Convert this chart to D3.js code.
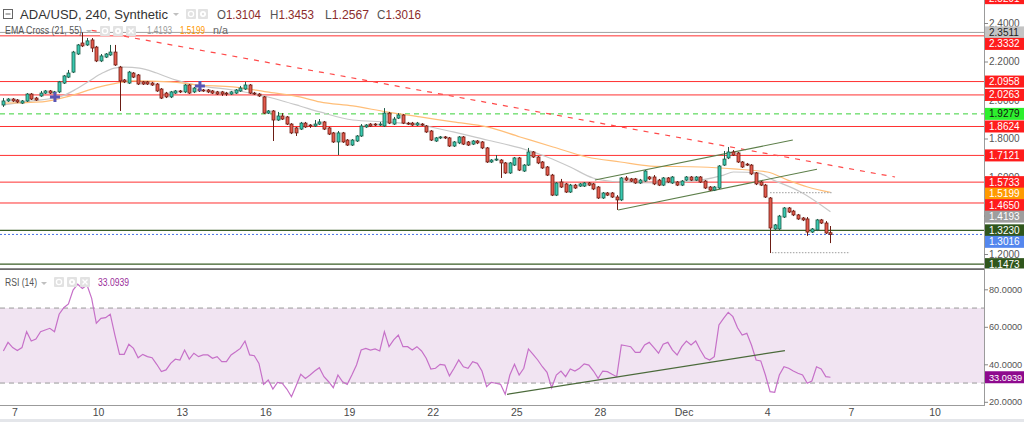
<!DOCTYPE html>
<html><head><meta charset="utf-8">
<script src="https://cdn.jsdelivr.net/npm/d3@7"></script>
<style>
html,body{margin:0;padding:0;background:#fff;overflow:hidden}
svg{display:block;font-family:"Liberation Sans",Arial,sans-serif}
</style></head><body>
<svg id="c" width="1024" height="422"></svg>
<script>
// ---------- data ----------
const barStartUTC = Date.UTC(2018,10,6,14);   // first 4h bar
const barMs = 4*3600*1000;
const open = [1.974,1.995,2.005,2.000,1.984,1.995,2.031,2.010,2.021,2.036,
2.047,2.036,2.042,2.088,2.119,2.145,2.239,2.296,2.286,2.312,
2.275,2.203,2.223,2.234,2.249,2.171,2.104,2.088,2.140,2.130,
2.094,2.094,2.088,2.083,2.057,2.036,2.016,2.036,2.047,2.042,
2.078,2.042,2.057,2.052,2.052,2.047,2.042,2.042,2.036,2.031,
2.036,2.047,2.057,2.078,2.036,2.031,2.016,1.932,1.943,1.896,
1.917,1.912,1.875,1.855,1.849,1.880,1.870,1.865,1.875,1.886,
1.855,1.829,1.782,1.829,1.792,1.766,1.787,1.813,1.860,1.875,
1.875,1.870,1.865,1.932,1.875,1.906,1.922,1.880,1.880,1.870,
1.875,1.865,1.839,1.787,1.803,1.808,1.803,1.761,1.777,1.808,
1.782,1.771,1.787,1.782,1.751,1.678,1.688,1.688,1.673,1.621,
1.662,1.699,1.631,1.662,1.730,1.704,1.678,1.652,1.610,1.506,
1.574,1.564,1.522,1.558,1.553,1.553,1.569,1.564,1.548,1.491,
1.517,1.517,1.496,1.481,1.595,1.590,1.590,1.569,1.579,1.600,
1.600,1.584,1.558,1.595,1.569,1.574,1.558,1.584,1.600,1.584,
1.600,1.579,1.548,1.532,1.543,1.662,1.699,1.730,1.725,1.678,
1.667,1.662,1.621,1.574,1.558,1.491,1.330,1.330,1.392,1.439,
1.423,1.403,1.387,1.382,1.314,1.325,1.377,1.361,1.3104];
const high = [2.010,2.010,2.010,2.005,2.000,2.036,2.036,2.016,2.047,2.052,
2.052,2.047,2.099,2.130,2.156,2.255,2.291,2.351,2.322,2.322,
2.281,2.239,2.244,2.286,2.286,2.177,2.109,2.151,2.145,2.135,
2.099,2.099,2.094,2.088,2.062,2.042,2.047,2.052,2.052,2.083,
2.083,2.068,2.062,2.057,2.057,2.052,2.047,2.047,2.042,2.047,
2.057,2.073,2.094,2.083,2.042,2.036,2.021,1.948,1.948,1.938,
1.932,1.917,1.880,1.860,1.886,1.886,1.875,1.896,1.901,1.891,
1.860,1.834,1.839,1.834,1.797,1.797,1.818,1.875,1.875,1.880,
1.880,1.886,1.958,1.938,1.912,1.932,1.927,1.886,1.886,1.886,
1.880,1.870,1.844,1.808,1.813,1.813,1.808,1.787,1.813,1.813,
1.787,1.792,1.792,1.787,1.756,1.693,1.714,1.693,1.678,1.678,
1.704,1.704,1.667,1.751,1.735,1.709,1.683,1.657,1.616,1.574,
1.590,1.569,1.564,1.564,1.569,1.574,1.574,1.569,1.553,1.522,
1.522,1.522,1.506,1.600,1.605,1.595,1.595,1.590,1.636,1.605,
1.610,1.590,1.600,1.600,1.605,1.579,1.584,1.605,1.605,1.605,
1.605,1.584,1.553,1.553,1.662,1.735,1.756,1.740,1.730,1.683,
1.673,1.667,1.626,1.579,1.564,1.496,1.356,1.403,1.444,1.444,
1.429,1.408,1.392,1.392,1.335,1.382,1.382,1.371,1.3453];
const low = [1.964,1.990,1.990,1.984,1.979,1.990,2.000,1.995,2.016,2.031,
2.031,2.026,2.036,2.083,2.114,2.140,2.234,2.275,2.281,2.249,
2.197,2.197,2.218,2.229,2.177,1.943,2.088,2.083,2.114,2.078,
2.078,2.078,2.073,2.042,2.005,2.010,2.010,2.031,2.036,2.036,
2.031,2.036,2.042,2.042,2.036,2.031,2.026,2.021,2.021,2.026,
2.031,2.042,2.052,2.031,2.026,2.016,1.927,1.927,1.787,1.891,
1.896,1.870,1.823,1.813,1.844,1.855,1.855,1.860,1.870,1.844,
1.818,1.777,1.714,1.777,1.761,1.761,1.782,1.808,1.855,1.860,
1.865,1.865,1.860,1.875,1.870,1.901,1.875,1.870,1.865,1.865,
1.865,1.829,1.787,1.782,1.797,1.797,1.756,1.756,1.771,1.766,
1.761,1.766,1.771,1.745,1.673,1.673,1.683,1.595,1.616,1.616,
1.657,1.631,1.626,1.657,1.699,1.667,1.642,1.605,1.501,1.501,
1.543,1.517,1.517,1.538,1.548,1.548,1.553,1.532,1.486,1.486,
1.501,1.491,1.429,1.475,1.579,1.574,1.564,1.564,1.574,1.584,
1.558,1.553,1.553,1.569,1.564,1.553,1.553,1.579,1.579,1.579,
1.569,1.538,1.527,1.527,1.538,1.657,1.693,1.709,1.673,1.647,
1.657,1.610,1.558,1.553,1.491,1.205,1.325,1.325,1.387,1.413,
1.397,1.377,1.371,1.294,1.309,1.319,1.356,1.304,1.2567];
const close = [1.995,2.005,1.995,1.990,1.995,2.031,2.005,2.000,2.036,2.047,
2.036,2.042,2.094,2.125,2.140,2.249,2.286,2.281,2.307,2.270,
2.203,2.229,2.239,2.249,2.182,2.099,2.094,2.145,2.119,2.083,
2.083,2.083,2.078,2.047,2.010,2.016,2.042,2.047,2.042,2.078,
2.036,2.062,2.047,2.047,2.042,2.036,2.031,2.031,2.031,2.042,
2.052,2.062,2.078,2.036,2.031,2.021,1.932,1.943,1.896,1.917,
1.901,1.875,1.829,1.829,1.880,1.860,1.865,1.875,1.886,1.849,
1.823,1.782,1.829,1.782,1.766,1.792,1.813,1.865,1.870,1.865,
1.870,1.875,1.932,1.880,1.901,1.922,1.880,1.875,1.870,1.880,
1.870,1.834,1.792,1.803,1.808,1.803,1.761,1.782,1.808,1.771,
1.766,1.787,1.777,1.751,1.678,1.688,1.693,1.673,1.621,1.673,
1.699,1.636,1.662,1.730,1.704,1.673,1.647,1.610,1.506,1.569,
1.548,1.522,1.558,1.543,1.564,1.569,1.558,1.538,1.491,1.517,
1.506,1.496,1.481,1.595,1.584,1.579,1.569,1.584,1.631,1.590,
1.564,1.558,1.595,1.574,1.600,1.558,1.579,1.600,1.584,1.600,
1.574,1.543,1.532,1.548,1.657,1.693,1.730,1.714,1.678,1.652,
1.662,1.616,1.564,1.558,1.496,1.335,1.351,1.397,1.439,1.418,
1.403,1.382,1.377,1.314,1.330,1.377,1.361,1.309,1.3016];
const rsi = [47.1,51.7,48.9,47.3,48.9,57.4,52.4,53.5,57.4,58.3,
59.2,57.4,66.7,70.2,72.2,79.6,82.7,80.5,82.3,75.2,
61.9,64.5,64.9,66.7,55.6,45.3,45.3,50.7,48.5,43.5,
45.3,44.1,43.5,40.0,36.1,37.0,40.5,42.7,42.3,47.6,
42.8,45.9,44.1,45.0,45.0,43.2,44.1,41.4,41.4,45.0,
46.7,48.5,52.4,45.0,44.6,40.5,29.3,31.6,26.8,30.4,
29.9,26.8,22.7,28.6,34.7,32.5,34.3,36.4,38.2,33.4,
30.7,27.5,34.3,30.7,29.3,34.3,39.6,47.6,48.5,47.6,
48.2,47.1,57.4,49.4,53.0,55.6,49.4,49.4,47.6,49.4,
47.1,43.2,37.5,37.9,40.0,39.6,33.8,37.9,42.3,38.7,
37.9,41.4,40.5,36.4,28.1,30.4,29.9,29.3,24.0,34.3,
40.0,34.3,37.9,48.2,45.3,42.3,38.7,35.7,27.5,34.3,
36.4,33.4,37.5,36.4,37.9,40.2,39.6,36.4,32.5,36.4,
36.1,34.7,33.4,50.3,49.9,49.4,46.4,46.4,50.3,51.7,
48.9,45.9,50.7,51.7,47.6,45.0,49.4,52.4,50.3,52.4,
47.6,43.5,42.3,44.1,61.0,64.5,67.7,65.4,59.5,55.6,
56.5,50.3,42.3,41.8,34.3,25.4,25.1,34.3,38.7,37.9,
36.4,35.2,34.3,29.9,31.1,38.7,37.5,33.4,33.0939];
const ema21Idx = [0,6.3,12.7,15.7,18.5,21.3,23.9,26.1,29.3,33.0,36.4,42.2,49.4,55.2,60.1,63.8,68.1,75.2,82.5,89.7,96.8,104.1,111.2,117.0,122.0,126.9,132.8,141.4,150.0,155.0,157.1,162.3,165.7,171.6,178];
const ema21Val = [1.974,1.995,2.021,2.057,2.099,2.140,2.166,2.171,2.166,2.140,2.109,2.075,2.052,2.026,1.995,1.969,1.938,1.896,1.886,1.870,1.834,1.792,1.751,1.704,1.652,1.595,1.574,1.569,1.584,1.610,1.626,1.621,1.584,1.522,1.4193];
const ema55Idx = [0,8.4,13.6,20.7,24.4,27.8,35.8,42.2,49.4,56.7,63.8,68.1,75.2,82.5,89.7,96.8,104.1,111.2,118.3,125.6,132.8,139.2,150.0,157.1,164.4,168.8,173.1,178];
const ema55Val = [1.984,1.990,2.016,2.068,2.088,2.099,2.094,2.078,2.068,2.042,2.016,1.990,1.969,1.938,1.912,1.886,1.860,1.808,1.756,1.704,1.678,1.657,1.652,1.642,1.626,1.584,1.548,1.5199];
const crossIdx = [11.1, 42.3];
const crossPrice = [2.016, 2.073];
const levelPrices = [2.5291,2.3511,2.3332,2.0958,2.0263,1.9279,1.8624,1.7121,1.5733,1.5199,1.4650,1.4193,1.3230,1.3016,1.1473];
const levelKinds  = ['red','gray','red','red','red','green','red','red','red','ema55','red','ema21','dkgreen','blue','dkgreen'];
// drawn trend lines: [startIdx, startPrice, endIdx, endPrice]
const redTrend = [19.0, 2.362, 191.9, 1.600];
const channelUpper = [127.3, 1.584, 169.9, 1.792];
const channelLower = [132.3, 1.429, 175.1, 1.640];
const greyMarks = [[165.0, 1.519, 178.5], [165.4, 1.207, 182.2]];
const rsiTrend = [108.4, 24.0, 168.2, 47.3];
const priceTicks = [2.4, 2.2, 2.0, 1.8, 1.6, 1.4, 1.2];
const rsiTicks = [80, 60, 40, 20];
const rsiBand = [70, 30];
const dateTicks = [[2018,10,7],[2018,10,10],[2018,10,13],[2018,10,16],[2018,10,19],[2018,10,22],[2018,10,25],[2018,10,28],[2018,11,1],[2018,11,4],[2018,11,7],[2018,11,10]];
const dateTickLabels = ['7','10','13','16','19','22','25','28','Dec','4','7','10'];

// ---------- scales ----------
const svg = d3.select('#c');
const plotR = 984;
const mainTop = 0, mainBot = 268.5, rsiTop = 270.5, rsiBot = 405;
const x = d3.scaleUtc().domain([Date.UTC(2018,10,7), Date.UTC(2018,11,10)]).range([15,935]);
const xi = i => x(new Date(barStartUTC + i*barMs));
const y = d3.scaleLinear().domain([1.2, 2.4]).range([254, 23]);
const yr = d3.scaleLinear().domain([20, 80]).range([401.8, 289.3]);
const fmt4 = d3.format('.4f');

const defs = svg.append('defs');
defs.append('clipPath').attr('id','cm').append('rect').attr('x',0).attr('y',mainTop).attr('width',plotR).attr('height',mainBot-mainTop);
defs.append('clipPath').attr('id','cr').append('rect').attr('x',0).attr('y',rsiTop).attr('width',plotR).attr('height',rsiBot-rsiTop);
defs.append('clipPath').attr('id','cam').append('rect').attr('x',plotR).attr('y',mainTop).attr('width',40).attr('height',mainBot-mainTop);
defs.append('clipPath').attr('id','car').append('rect').attr('x',plotR).attr('y',rsiTop).attr('width',40).attr('height',rsiBot-rsiTop);

svg.append('rect').attr('width',1024).attr('height',422).attr('fill','#fff');

// ---------- main panel ----------
const gm = svg.append('g').attr('clip-path','url(#cm)');
const lvlStyle = {
  red:{line:'#ff3030',w:1,dash:null,box:'#ff1c1c',txt:'#fff'},
  gray:{line:'#a0a0a0',w:1,dash:null,box:'#c4c4c4',txt:'#222'},
  green:{line:'#3ad13a',w:1,dash:'5,4',box:'#2df02d',txt:'#111'},
  ema55:{line:null,box:'#ff9a00',txt:'#fff'},
  ema21:{line:null,box:'#9e9e9e',txt:'#fff'},
  dkgreen:{line:'#3a5e26',w:1.3,dash:null,box:'#2f561c',txt:'#fff'},
  blue:{line:'#4a72e6',w:1,dash:'2,2',box:'#5487ee',txt:'#fff'}
};
levelPrices.forEach((p,k)=>{
  const s = lvlStyle[levelKinds[k]];
  if(!s.line) return;
  gm.append('line').attr('x1',0).attr('x2',plotR).attr('y1',y(p)).attr('y2',y(p))
    .attr('stroke',s.line).attr('stroke-width',s.w).attr('stroke-dasharray',s.dash);
});

// EMA lines
const lineFn = d3.line().x(d=>xi(d[0])).y(d=>y(d[1])).curve(d3.curveMonotoneX);
gm.append('path').attr('d',lineFn(ema21Idx.map((v,k)=>[v,ema21Val[k]]))).attr('fill','none').attr('stroke','#c8c8c8').attr('stroke-width',1.2);
gm.append('path').attr('d',lineFn(ema55Idx.map((v,k)=>[v,ema55Val[k]]))).attr('fill','none').attr('stroke','#ffbe78').attr('stroke-width',1.2);

// trend lines
function seg(g, a, sc, stroke, w, dash){
  g.append('line').attr('x1',xi(a[0])).attr('y1',sc(a[1])).attr('x2',xi(a[2])).attr('y2',sc(a[3]))
   .attr('stroke',stroke).attr('stroke-width',w).attr('stroke-dasharray',dash);
}
seg(gm, redTrend, y, '#ff4a4a', 1.2, '5,6');
seg(gm, channelUpper, y, '#5d7f4a', 1.1, null);
seg(gm, channelLower, y, '#5d7f4a', 1.1, null);
greyMarks.forEach(m=>{
  gm.append('line').attr('x1',xi(m[0])).attr('x2',xi(m[2])).attr('y1',y(m[1])).attr('y2',y(m[1]))
    .attr('stroke','#b0b0b0').attr('stroke-width',1.2).attr('stroke-dasharray','1.5,1.5');
});

// candles
const bars = d3.range(open.length);
const cg = gm.append('g');
bars.forEach(i=>{
  const up = close[i] >= open[i];
  const cx = Math.round(xi(i)) + 0.5;
  const edge = up ? '#1f5a46' : '#6b1d14';
  cg.append('line').attr('x1',cx).attr('x2',cx).attr('y1',y(high[i])).attr('y2',y(low[i]))
    .attr('stroke', edge).attr('stroke-width',1);
  const top = y(Math.max(open[i],close[i])), bot = y(Math.min(open[i],close[i]));
  cg.append('rect').attr('x',cx-1.5).attr('y',top).attr('width',3).attr('height',Math.max(1,bot-top))
    .attr('fill', up ? '#39c9b1' : '#e35a4c').attr('stroke',edge).attr('stroke-width',0.8);
});

// EMA cross markers
crossIdx.forEach((ci,k)=>{
  const cx = xi(ci), cy = y(crossPrice[k]);
  gm.append('path').attr('d',`M${cx-5},${cy}H${cx+5}M${cx},${cy-5}V${cy+5}`)
    .attr('stroke','#5a55b5').attr('stroke-width',3);
});

// ---------- RSI panel ----------
const gr = svg.append('g').attr('clip-path','url(#cr)');
gr.append('rect').attr('x',0).attr('width',plotR).attr('y',yr(rsiBand[0])).attr('height',yr(rsiBand[1])-yr(rsiBand[0])).attr('fill','#f1e4f2');
rsiBand.forEach(v=>{
  gr.append('line').attr('x1',0).attr('x2',plotR).attr('y1',yr(v)).attr('y2',yr(v))
    .attr('stroke','#9a9a9a').attr('stroke-width',1).attr('stroke-dasharray','5,4');
});
gr.append('path').attr('d', d3.line().x((d,i)=>xi(i)).y(d=>yr(d))(rsi))
  .attr('fill','none').attr('stroke','#c670c8').attr('stroke-width',1.2);
seg(gr, rsiTrend, yr, '#4b6a3b', 1.2, null);

// ---------- frames ----------
svg.append('rect').attr('x',0).attr('y',268.3).attr('width',plotR+1).attr('height',1.6).attr('fill','#5a5a5a');
svg.append('line').attr('x1',plotR+0.5).attr('x2',plotR+0.5).attr('y1',0).attr('y2',rsiBot).attr('stroke','#9b9b9b');
svg.append('line').attr('x1',0).attr('x2',plotR+1).attr('y1',rsiBot+0.5).attr('y2',rsiBot+0.5).attr('stroke','#9b9b9b');
svg.append('rect').attr('x',0).attr('y',419).attr('width',1024).attr('height',3).attr('fill','#e4e6ea');

// x axis labels
dateTicks.forEach((d,k)=>{
  svg.append('text').attr('x',x(new Date(Date.UTC(d[0],d[1],d[2])))).attr('y',416)
    .attr('text-anchor','middle').attr('font-size',10.5).attr('fill','#4a4a4a').text(dateTickLabels[k]);
});

// axis text helper (smaller font for 7-char labels so they fit the 40px axis)
function axisText(g, yy, color, str){
  return g.append('text').attr('x',989).attr('y',yy+3.5)
    .attr('font-size', str.length > 6 ? 9.2 : 10).attr('fill',color).text(str);
}

// price axis
const ga = svg.append('g').attr('clip-path','url(#cam)');
const labs = levelPrices.map((p,k)=>({p, k, yy:y(p)})).sort((a,b)=>a.yy-b.yy);
for(let j=1;j<labs.length;j++){ labs[j].yy = Math.max(labs[j].yy, labs[j-1].yy + 11.5); }
priceTicks.forEach(p=>{
  ga.append('line').attr('x1',plotR).attr('x2',plotR+4).attr('y1',y(p)+0.5).attr('y2',y(p)+0.5).attr('stroke','#888');
  axisText(ga, y(p), '#555', fmt4(p));
});
labs.forEach(l=>{
  const s = lvlStyle[levelKinds[l.k]];
  ga.append('rect').attr('x',plotR+1).attr('y',l.yy-6).attr('width',40).attr('height',12).attr('fill',s.box);
  axisText(ga, l.yy, s.txt, fmt4(l.p));
});

// rsi axis
const gra = svg.append('g').attr('clip-path','url(#car)');
rsiTicks.forEach(v=>{
  gra.append('line').attr('x1',plotR).attr('x2',plotR+4).attr('y1',yr(v)+0.5).attr('y2',yr(v)+0.5).attr('stroke','#888');
  axisText(gra, yr(v), '#555', fmt4(v));
});
const lastRsi = rsi[rsi.length-1];
gra.append('rect').attr('x',plotR+1).attr('y',yr(lastRsi)-6).attr('width',40).attr('height',12).attr('fill','#8e0a8e');
axisText(gra, yr(lastRsi), '#fff', fmt4(lastRsi));

// ---------- header texts ----------
function iconBox(xp, yp, kind){
  const g = svg.append('g');
  g.append('rect').attr('x',xp).attr('y',yp).attr('width',10).attr('height',10).attr('rx',1).attr('fill','#e2e2e2');
  if(kind==='eye'){ g.append('circle').attr('cx',xp+5).attr('cy',yp+5).attr('r',2.6).attr('fill','none').attr('stroke','#fff').attr('stroke-width',1.3); }
  if(kind==='gear'){ g.append('circle').attr('cx',xp+5).attr('cy',yp+5).attr('r',3).attr('fill','#fff'); g.append('circle').attr('cx',xp+5).attr('cy',yp+5).attr('r',1.2).attr('fill','#e2e2e2'); }
  if(kind==='x'){ g.append('path').attr('d',`M${xp+2.5},${yp+2.5}L${xp+7.5},${yp+7.5}M${xp+7.5},${yp+2.5}L${xp+2.5},${yp+7.5}`).attr('stroke','#fff').attr('stroke-width',1.4); }
}
function caret(xp, yp){ svg.append('path').attr('d',`M${xp},${yp}h6l-3,3z`).attr('fill','#c0c0c0'); }
function fitText(xp, yp, size, color, str, len){
  return svg.append('text').attr('x',xp).attr('y',yp).attr('font-size',size).attr('fill',color)
    .attr('textLength',len).attr('lengthAdjust','spacingAndGlyphs').text(str);
}

// line 1
svg.append('rect').attr('x',3.5).attr('y',9.5).attr('width',9).attr('height',9).attr('fill','#fff').attr('stroke','#666');
svg.append('line').attr('x1',5.5).attr('x2',10.5).attr('y1',14).attr('y2',14).attr('stroke','#666');
fitText(20, 19, 12.5, '#333', 'ADA/USD, 240, Synthetic', 148);
caret(173, 13);
iconBox(186, 9, 'eye'); iconBox(198, 9, 'gear');
const ohlcLab = ['O','H','L','C'], ohlcVal = [open[open.length-1], high[high.length-1], low[low.length-1], close[close.length-1]];
const ohlcX = [217, 270, 325, 377];
ohlcLab.forEach((l,k)=>{
  const t = svg.append('text').attr('x',ohlcX[k]).attr('y',19).attr('font-size',12)
    .attr('textLength',44).attr('lengthAdjust','spacingAndGlyphs');
  t.append('tspan').attr('fill','#555').text(l);
  t.append('tspan').attr('fill','#8c2b2b').text(fmt4(ohlcVal[k]));
});
// line 2
fitText(5, 34, 10, '#555', 'EMA Cross (21, 55)', 77);
caret(86, 30);
iconBox(100, 26, 'eye'); iconBox(113, 26, 'gear'); iconBox(126, 26, 'x');
fitText(147, 34, 10, '#9a9a9a', fmt4(ema21Val[ema21Val.length-1]), 25);
fitText(180, 34, 10, '#ff9800', fmt4(ema55Val[ema55Val.length-1]), 25);
fitText(213, 34, 10, '#666', 'n/a', 15);
// RSI header
fitText(5, 286, 10, '#555', 'RSI (14)', 32);
caret(41, 282);
iconBox(54, 277, 'eye'); iconBox(67, 277, 'gear'); iconBox(80, 277, 'x');
fitText(98, 286, 10, '#9a2d9a', fmt4(lastRsi), 31);
</script>
</body></html>
